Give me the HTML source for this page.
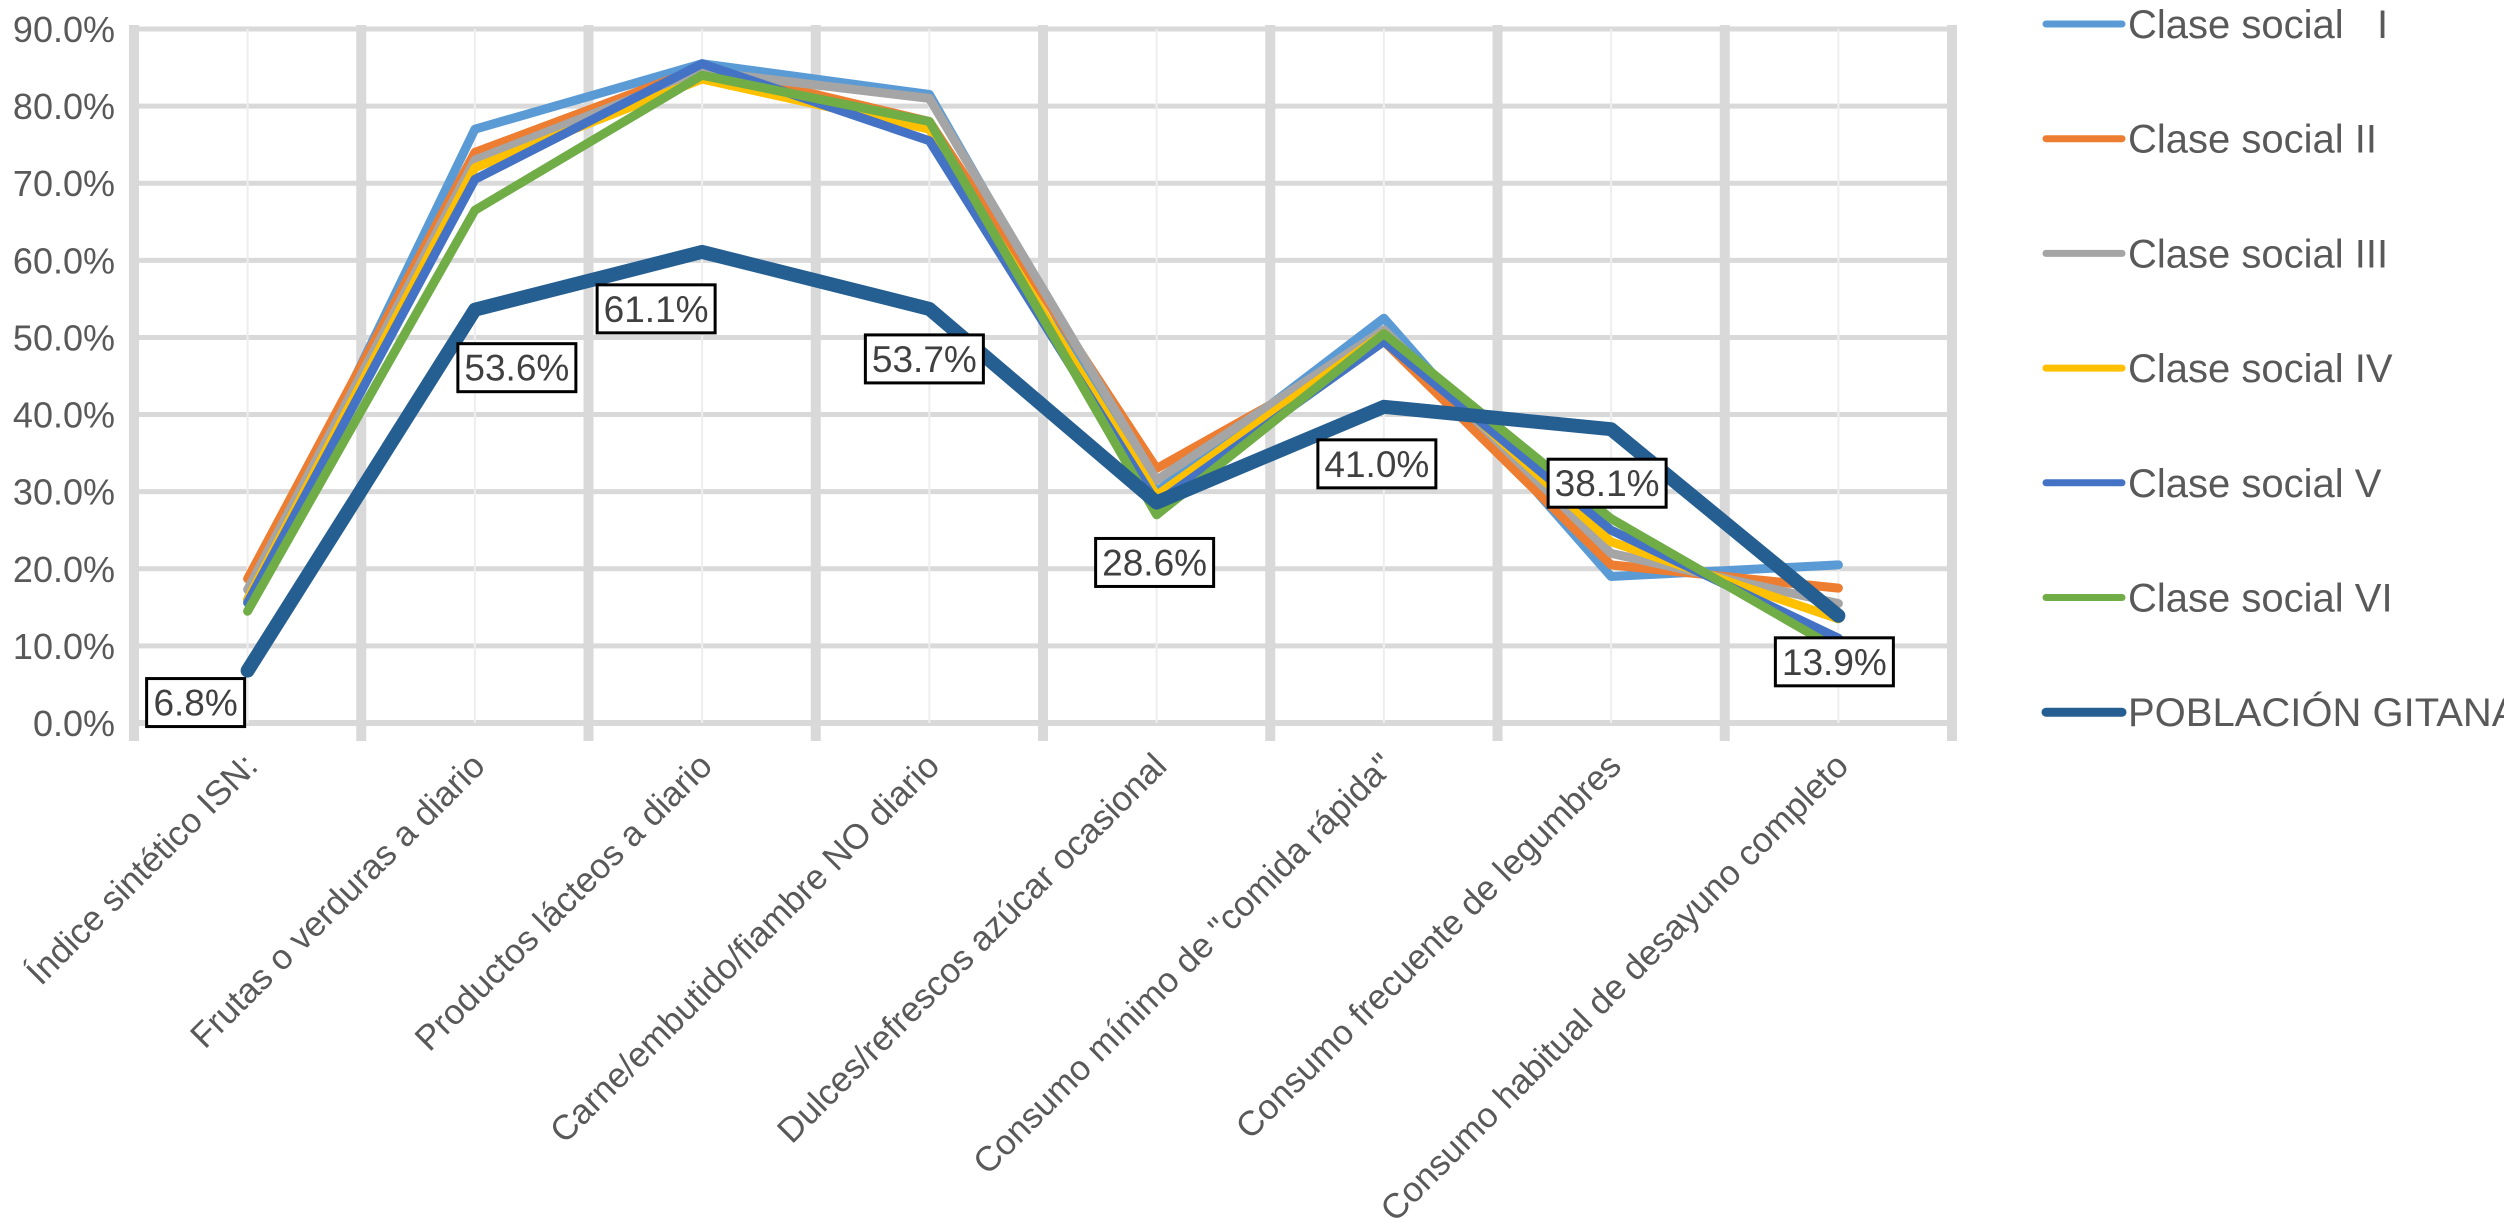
<!DOCTYPE html>
<html><head><meta charset="utf-8">
<style>
html,body{margin:0;padding:0;background:#fff;}
svg{display:block;font-family:"Liberation Sans",sans-serif;}
</style></head>
<body>
<svg id="chart" width="2504" height="1219" viewBox="0 0 2504 1219" xmlns="http://www.w3.org/2000/svg">
<g id="grid"></g>
<g id="yaxis"></g>
<g id="xaxis"></g>
<g id="series"></g>
<g id="labels"></g>
<g id="legend"></g>
</svg>
<script>
const categories = ["Índice sintético ISN:", "Frutas o verduras a diario", "Productos lácteos a diario", "Carne/embutido/fiambre NO diario", "Dulces/refrescos azúcar ocasional", "Consumo mínimo de \"comida rápida\"", "Consumo frecuente de legumbres", "Consumo habitual de desayuno completo"];
const yTicks = [0,10,20,30,40,50,60,70,80,90];
const seriesNames = ["Clase social   I", "Clase social II", "Clase social III", "Clase social IV", "Clase social V", "Clase social VI", "POBLACIÓN GITANA"];
const claseI   = [16.0, 77.0, 85.5, 81.5, 30.0, 52.5, 19.0, 20.5];
const claseII  = [18.7, 74.0, 85.0, 78.0, 33.0, 49.5, 20.5, 17.5];
const claseIII = [17.3, 73.0, 84.5, 81.0, 31.5, 51.0, 22.0, 15.5];
const claseIV  = [16.0, 72.0, 83.5, 77.0, 29.5, 50.5, 23.5, 13.5];
const claseV   = [15.6, 70.5, 85.5, 75.5, 28.5, 49.5, 25.0, 11.0];
const claseVI  = [14.5, 66.5, 84.0, 78.0, 27.0, 50.5, 26.5, 9.5];
const gitana   = [6.8, 53.6, 61.1, 53.7, 28.6, 41.0, 38.1, 13.9];

const colors = ["#5B9BD5","#ED7D31","#A5A5A5","#FFC000","#4472C4","#70AD47","#255E91"];
const widths = [9,9,9,9,9,9,14];
const labelDx = [-52, 42, -46, -5, -2, -7, -4, -4];
const labelDy = [32, 58, 57, 50, 60, 57, 54, 46];

const NS = "http://www.w3.org/2000/svg";
const L = 134, R = 1952, T = 29, B = 723, YMAX = 90;
const step = (R - L) / categories.length;
function xS(i){ return L + step * (i + 0.5); }
function yS(v){ return B - (v / YMAX) * (B - T); }
function mk(tag, attrs, parent){ const e = document.createElementNS(NS, tag); for (const k in attrs) e.setAttribute(k, attrs[k]); parent.appendChild(e); return e; }

const grid = document.getElementById('grid');
yTicks.forEach(t => {
  const l = mk('line', {x1:L, x2:R, y1:yS(t), y2:yS(t), stroke:'#d9d9d9', 'stroke-width': t===0 ? 6 : 5}, grid);
  
  
});
for (let k = 0; k <= categories.length; k++) {
  const x = L + step * k;
  const l = mk('line', {x1:x, x2:x, y1:T-4, y2:B + 18, stroke:'#d9d9d9', 'stroke-width':10}, grid);
  
  
}
for (let i = 0; i < categories.length; i++) {
  const l = mk('line', {x1:xS(i), x2:xS(i), y1:T, y2:B, stroke:'#eeeeee', 'stroke-width':2}, grid);
  
  
}

const ya = document.getElementById('yaxis');
yTicks.forEach(t => {
  const tx = mk('text', {x:115, y:yS(t)+13, 'text-anchor':'end', 'font-size':36, fill:'#595959'}, ya);
  tx.textContent = t.toFixed(1) + '%';
  
  
});

const xa = document.getElementById('xaxis');
categories.forEach((c, i) => {
  const x = xS(i) + 12, y = 768;
  const tx = mk('text', {x:x, y:y, 'text-anchor':'end', 'font-size':35, fill:'#595959', transform:`rotate(-45 ${x} ${y})`}, xa);
  tx.textContent = c;
  
  
});

const allSeries = [claseI, claseII, claseIII, claseIV, claseV, claseVI, gitana];
const sg = document.getElementById('series');
allSeries.forEach((vals, s) => {
  const pts = vals.map((v, i) => xS(i).toFixed(1) + ',' + yS(v).toFixed(1)).join(' ');
  const p = mk('polyline', {points:pts, fill:'none', stroke:colors[s], 'stroke-width':widths[s], 'stroke-linejoin':'round', 'stroke-linecap':'round'}, sg);
  
  
});

const lg = document.getElementById('labels');
gitana.forEach((v, i) => {
  const txt = v.toFixed(1) + '%';
  const w = txt.length >= 5 ? 118 : 98, h = 48;
  const cx = xS(i) + labelDx[i], cy = yS(v) + labelDy[i];
  const r = mk('rect', {x:cx - w/2, y:cy - h/2, width:w, height:h, fill:'#fff', stroke:'#000', 'stroke-width':3}, lg);
  
  
  const t = mk('text', {x:cx, y:cy + 13, 'text-anchor':'middle', 'font-size':37, fill:'#404040'}, lg);
  t.textContent = txt;
  
  
});

const leg = document.getElementById('legend');
seriesNames.forEach((n, s) => {
  const y = 24 + s * 114.7;
  const g = mk('g', {}, leg);
  
  
  mk('line', {x1:2046, x2:2122, y1:y, y2:y, stroke:colors[s], 'stroke-width': s===6 ? 9 : 7, 'stroke-linecap':'round'}, g);
  const t = mk('text', {x:2128, y:y + 14, 'font-size':40, fill:'#595959'}, g);
  t.textContent = n;
  t.setAttribute('xml:space', 'preserve');
  t.style.whiteSpace = 'pre';
});
</script>
</body></html>
